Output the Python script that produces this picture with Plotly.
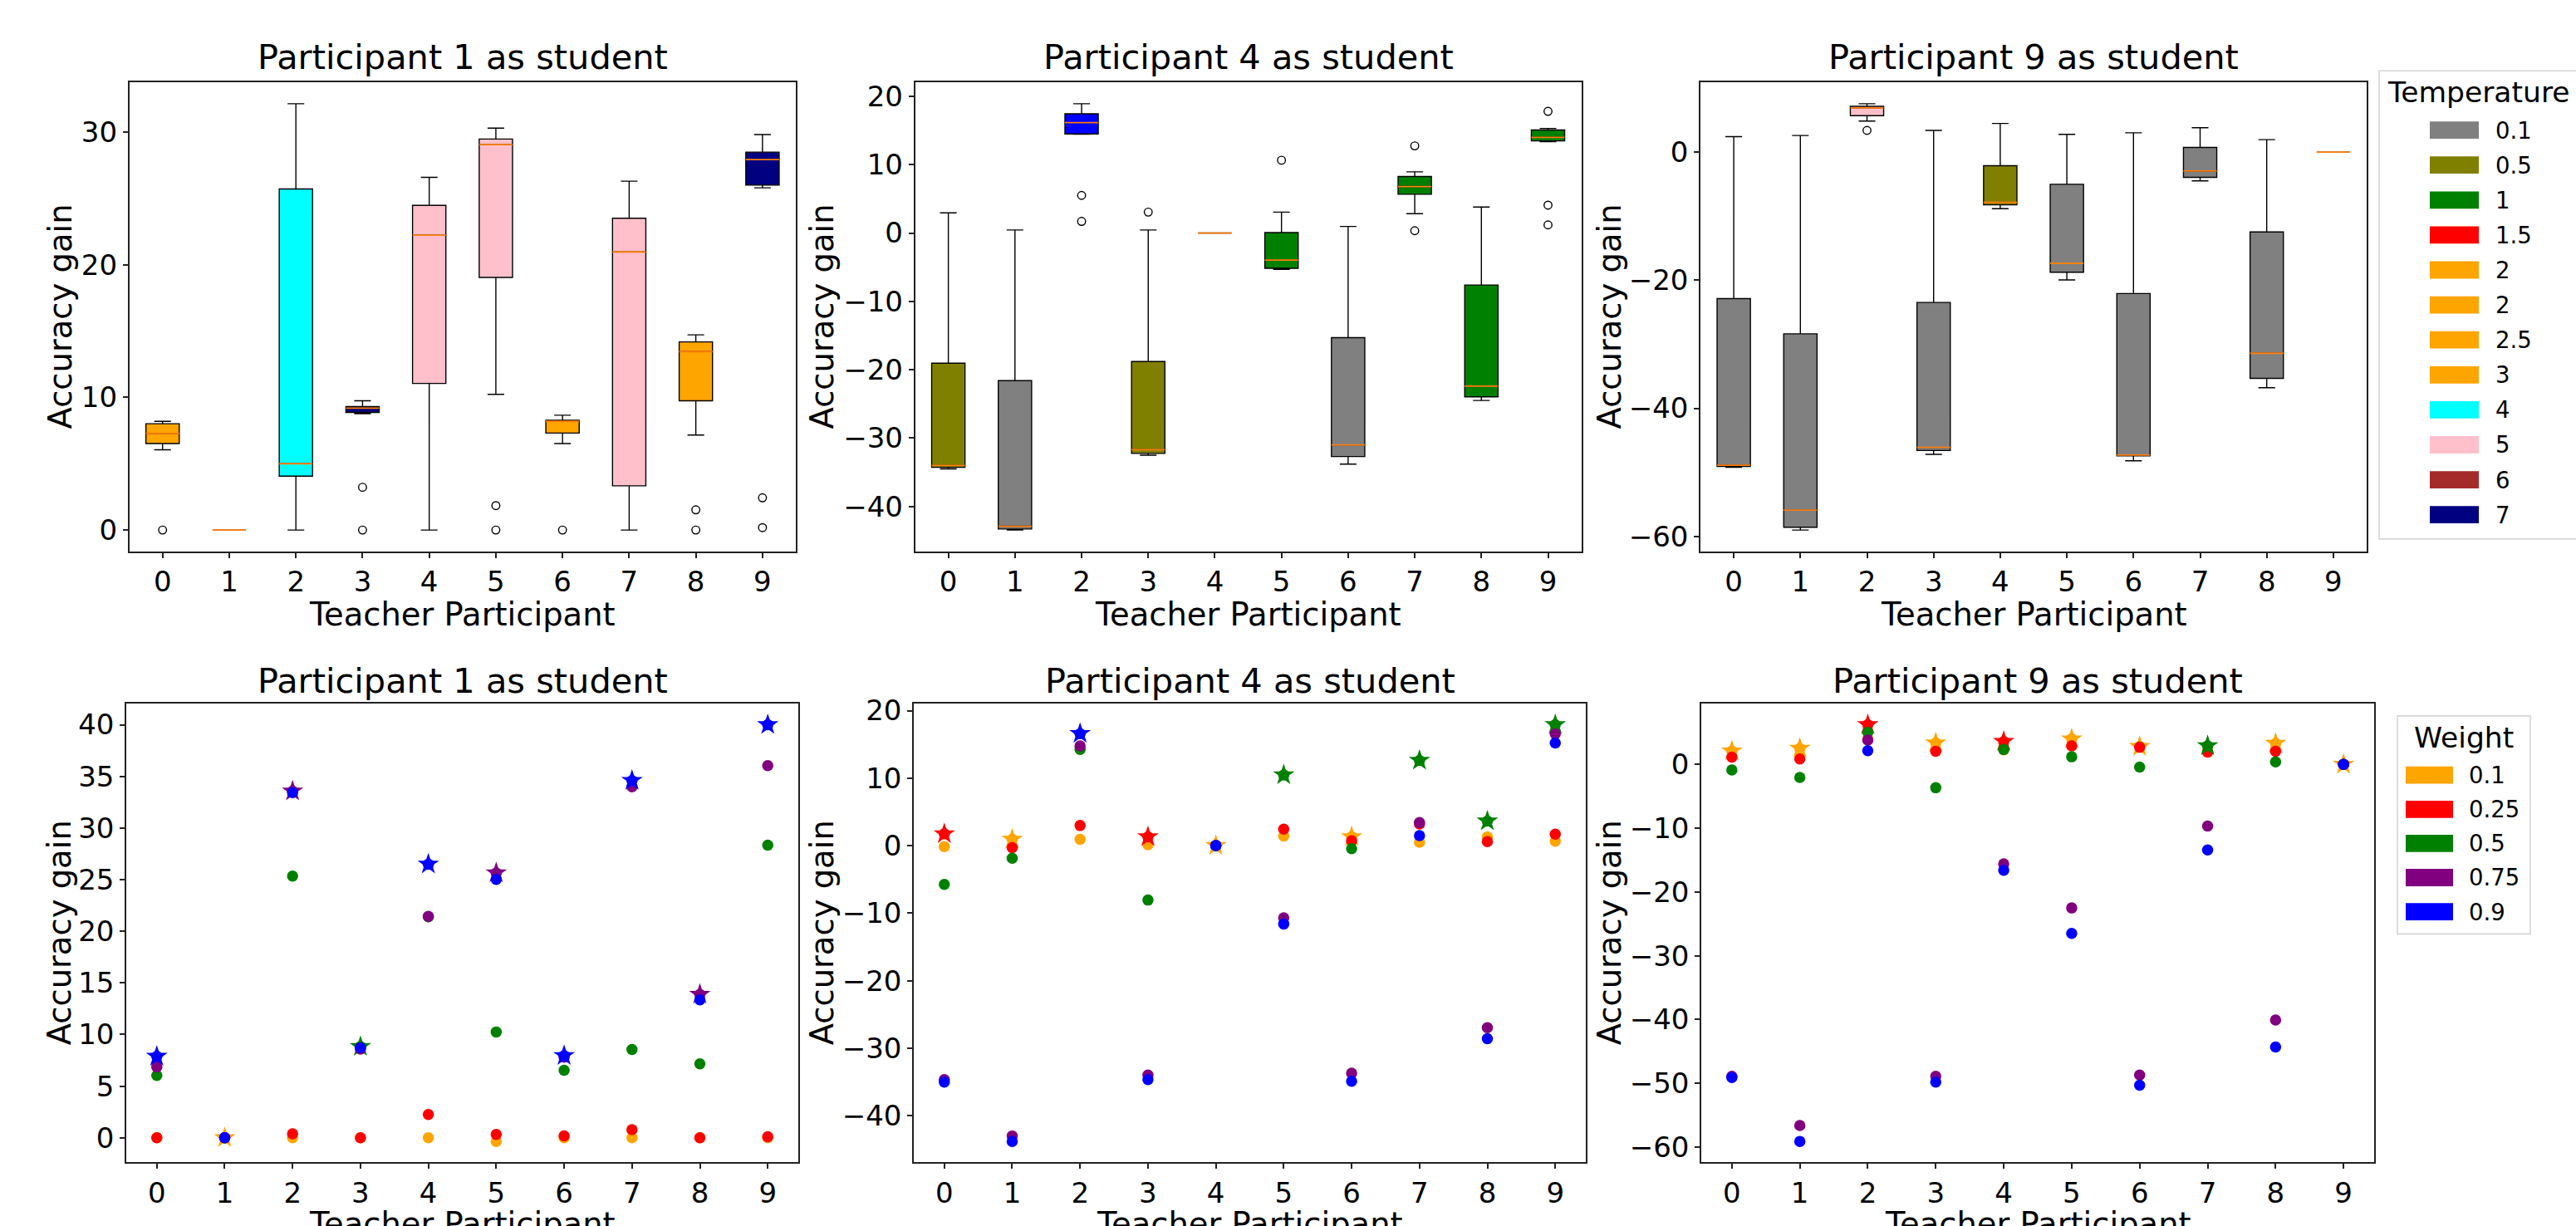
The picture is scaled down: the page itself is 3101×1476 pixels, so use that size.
import plotly.graph_objects as go

W, H = 3101, 1476
FONT = "DejaVu Sans"

# ---------------- data ----------------
TEACHERS = [0, 1, 2, 3, 4, 5, 6, 7, 8, 9]
TITLES = ["Participant 1 as student", "Participant 4 as student", "Participant 9 as student"]
X_LABEL = "Teacher Participant"
Y_LABEL = "Accuracy gain"

# Top row: box statistics per teacher
P1_Q1 = [6.52, 0.0, 4.06, 8.86, 11.05, 19.04, 7.31, 3.33, 9.74, 25.99]
P1_MEDIAN = [7.28, 0.0, 5.0, 9.18, 22.22, 29.04, 8.19, 20.96, 13.45, 27.92]
P1_Q3 = [8.01, 0.0, 25.7, 9.30, 24.47, 29.47, 8.27, 23.5, 14.18, 28.48]
P1_LOW = [6.05, 0.0, 0.0, 8.77, 0.0, 10.23, 6.52, 0.0, 7.16, 25.79]
P1_HIGH = [8.19, 0.0, 32.13, 9.74, 26.58, 30.29, 8.65, 26.29, 14.71, 29.8]
P1_BOX_COLOR = ["orange", "orange", "cyan", "navy", "pink", "pink", "orange", "pink", "orange", "navy"]
P1_OUT_X = [0, 3, 3, 5, 5, 6, 8, 8, 9, 9]
P1_OUT_Y = [0.0, 3.22, 0.0, 1.84, 0.0, 0.0, 1.52, 0.0, 2.43, 0.18]

P4_Q1 = [-34.28, -43.3, 14.5, -32.24, 0.0, -5.16, -32.7, 5.67, -23.97, 13.48]
P4_MEDIAN = [-34.0, -42.9, 16.15, -31.7, 0.0, -3.97, -31.0, 6.8, -22.4, 14.0]
P4_Q3 = [-19.04, -21.6, 17.45, -18.8, 0.0, 0.06, -15.3, 8.27, -7.6, 15.07]
P4_LOW = [-34.5, -43.45, 14.45, -32.5, 0.0, -5.33, -33.8, 2.83, -24.5, 13.37]
P4_HIGH = [2.95, 0.45, 18.92, 0.45, 0.0, 3.06, 0.96, 8.95, 3.8, 15.3]
P4_BOX_COLOR = ["olive", "gray", "blue", "olive", "orange", "green", "gray", "green", "green", "green"]
P4_OUT_X = [2, 2, 3, 5, 7, 7, 9, 9, 9]
P4_OUT_Y = [5.5, 1.7, 3.06, 10.65, 12.75, 0.34, 17.8, 4.08, 1.19]

P9_Q1 = [-49.06, -58.56, 5.69, -46.58, -8.23, -18.75, -47.43, -3.93, -35.33, 0.0]
P9_MEDIAN = [-48.9, -55.9, 6.9, -46.1, -7.86, -17.36, -47.3, -2.96, -31.4, 0.0]
P9_Q3 = [-22.87, -28.37, 7.14, -23.47, -2.12, -5.02, -22.08, 0.73, -12.46, 0.0]
P9_LOW = [-49.2, -59.0, 4.84, -47.19, -8.83, -19.96, -48.2, -4.48, -36.78, 0.0]
P9_HIGH = [2.42, 2.6, 7.56, 3.39, 4.48, 2.78, 3.02, 3.81, 1.94, 0.0]
P9_BOX_COLOR = ["gray", "gray", "pink", "gray", "olive", "gray", "gray", "gray", "gray", "orange"]
P9_OUT_X = [2]
P9_OUT_Y = [3.39]

TEMP_LABELS = ["0.1", "0.5", "1", "1.5", "2", "2", "2.5", "3", "4", "5", "6", "7"]
TEMP_COLORS = ["gray", "olive", "green", "red", "orange", "orange", "orange", "orange",
               "cyan", "pink", "brown", "navy"]

# Bottom row: accuracy gain per distillation weight
WEIGHT_LABELS = ["0.1", "0.25", "0.5", "0.75", "0.9"]
WEIGHT_COLORS = ["orange", "red", "green", "purple", "blue"]

P1_W010 = [0.0, 0.0, 0.0, 0.0, 0.0, -0.35, 0.0, 0.0, 0.0, 0.0]
P1_W025 = [0.0, 0.0, 0.39, 0.0, 2.26, 0.32, 0.18, 0.78, 0.0, 0.11]
P1_W050 = [6.04, 0.0, 25.34, 8.83, 21.4, 10.25, 6.54, 8.55, 7.17, 28.34]
P1_W075 = [6.86, 0.0, 33.57, 8.6, 21.45, 25.65, 7.8, 34.0, 13.89, 36.04]
P1_W090 = [7.88, 0.0, 33.43, 8.73, 26.5, 25.02, 7.95, 34.6, 13.36, 40.0]

P4_W010 = [-0.14, 0.94, 0.94, 0.13, 0.0, 1.42, 1.31, 0.51, 1.31, 0.67]
P4_W025 = [1.75, -0.30, 2.98, 1.31, 0.0, 2.44, 0.72, 3.2, 0.61, 1.69]
P4_W050 = [-5.74, -1.86, 14.24, -8.06, 0.0, 10.47, -0.46, 12.62, 3.63, 17.9]
P4_W075 = [-34.66, -43.0, 14.78, -33.96, 0.0, -10.7, -33.7, 3.41, -26.96, 16.55]
P4_W090 = [-35.03, -43.8, 16.6, -34.66, 0.0, -11.6, -34.9, 1.48, -28.6, 15.2]

P9_W010 = [2.11, 2.51, 4.0, 3.37, 2.3, 4.0, 2.8, 2.0, 3.31, 0.0]
P9_W025 = [1.14, 0.86, 6.22, 2.05, 3.6, 2.91, 2.7, 1.94, 2.05, 0.0]
P9_W050 = [-0.86, -2.05, 5.02, -3.65, 2.34, 1.2, -0.4, 2.91, 0.4, 0.0]
P9_W075 = [-48.9, -56.6, 3.82, -48.9, -15.6, -22.5, -48.7, -9.65, -40.07, 0.0]
P9_W090 = [-49.1, -59.1, 2.17, -49.8, -16.6, -26.5, -50.3, -13.4, -44.3, 0.0]

BOX_PANELS = [
    dict(q1=P1_Q1, med=P1_MEDIAN, q3=P1_Q3, lo=P1_LOW, hi=P1_HIGH, col=P1_BOX_COLOR, ox=P1_OUT_X, oy=P1_OUT_Y),
    dict(q1=P4_Q1, med=P4_MEDIAN, q3=P4_Q3, lo=P4_LOW, hi=P4_HIGH, col=P4_BOX_COLOR, ox=P4_OUT_X, oy=P4_OUT_Y),
    dict(q1=P9_Q1, med=P9_MEDIAN, q3=P9_Q3, lo=P9_LOW, hi=P9_HIGH, col=P9_BOX_COLOR, ox=P9_OUT_X, oy=P9_OUT_Y),
]
SCATTER_PANELS = [
    [P1_W010, P1_W025, P1_W050, P1_W075, P1_W090],
    [P4_W010, P4_W025, P4_W050, P4_W075, P4_W090],
    [P9_W010, P9_W025, P9_W050, P9_W075, P9_W090],
]

# ---------------- layout constants (pixels) ----------------
BOX_X_PX = [(155.6, 958.0), (1101.5, 1903.6), (2047.0, 2849.0)]
SCAT_X_PX = [(152.0, 961.0), (1100.0, 1909.0), (2048.0, 2858.0)]
TOP_Y_PX = (88.0, 658.0)
BOT_Y_PX = (843.5, 1400.5)
YTITLE_X_PX = [[72, 989, 1937], [71, 989, 1937]]
BOX_DTICK = [10, 10, 20]
SCAT_DTICK = [5, 10, 10]
BOX_W = 0.5
TITLE_SIZE = 41.5
LABEL_SIZE = 38.5
TICK_SIZE = 34


def px_x(p):
    return p / W


def px_y(p):
    return 1 - p / H


def padded(vals, frac=0.05):
    lo, hi = min(vals), max(vals)
    span = hi - lo
    return [lo - frac * span, hi + frac * span]


fig = go.Figure()
layout = dict(
    width=W, height=H,
    margin=dict(l=0, r=0, t=0, b=0),
    paper_bgcolor="white", plot_bgcolor="white",
    showlegend=False, boxmode="overlay",
    font=dict(family=FONT, color="black"),
)

axis_common = dict(
    showline=True, mirror=True, linecolor="#222222", linewidth=1.5,
    ticks="outside", ticklen=6, tickwidth=1.5, tickcolor="#222222",
    showgrid=False, zeroline=False,
    tickfont=dict(family=FONT, size=TICK_SIZE, color="black"),
)

annotations = []
shapes = []


def text_ann(text, x, y, size, angle=0, xanchor="center"):
    return dict(text=text, x=px_x(x), y=px_y(y), xref="paper", yref="paper",
                showarrow=False, xanchor=xanchor, yanchor="middle", textangle=angle,
                font=dict(size=size, family=FONT, color="black"))


# ---------------- top row: box plots ----------------
for p, panel in enumerate(BOX_PANELS):
    idx = p + 1
    xa = "x" if idx == 1 else f"x{idx}"
    ya = "y" if idx == 1 else f"y{idx}"
    for t in TEACHERS:
        fig.add_trace(go.Box(
            x=[t], q1=[panel["q1"][t]], median=[panel["med"][t]], q3=[panel["q3"][t]],
            lowerfence=[panel["lo"][t]], upperfence=[panel["hi"][t]],
            orientation="v", width=BOX_W, whiskerwidth=0.5,
            fillcolor=panel["col"][t], line=dict(color="black", width=1.4),
            boxpoints=False, showlegend=False, xaxis=xa, yaxis=ya,
        ))
    mx, my = [], []
    for t in TEACHERS:
        mx += [t - BOX_W / 2, t + BOX_W / 2, None]
        my += [panel["med"][t], panel["med"][t], None]
    fig.add_trace(go.Scatter(x=mx, y=my, mode="lines", line=dict(color="#ff7f0e", width=1.8),
                             showlegend=False, xaxis=xa, yaxis=ya))
    fig.add_trace(go.Scatter(x=panel["ox"], y=panel["oy"], mode="markers",
                             marker=dict(symbol="circle-open", size=9.5, color="black",
                                         line=dict(width=1.4, color="black")),
                             showlegend=False, xaxis=xa, yaxis=ya))
    yr = padded(panel["lo"] + panel["hi"] + panel["oy"])
    layout["xaxis" if idx == 1 else f"xaxis{idx}"] = dict(
        axis_common, domain=[px_x(BOX_X_PX[p][0]), px_x(BOX_X_PX[p][1])], anchor=ya,
        range=[-0.5, 9.5], tickmode="array", tickvals=TEACHERS, ticktext=[str(t) for t in TEACHERS])
    layout["yaxis" if idx == 1 else f"yaxis{idx}"] = dict(
        axis_common, domain=[px_y(TOP_Y_PX[1]), px_y(TOP_Y_PX[0])], anchor=xa,
        range=yr, tick0=0, dtick=BOX_DTICK[p])
    cx = (BOX_X_PX[p][0] + BOX_X_PX[p][1]) / 2
    annotations.append(text_ann(TITLES[p], cx, 57, TITLE_SIZE))
    annotations.append(text_ann(X_LABEL, cx, 734, LABEL_SIZE))
    annotations.append(text_ann(Y_LABEL, YTITLE_X_PX[0][p], sum(TOP_Y_PX) / 2, LABEL_SIZE, angle=-90))

# ---------------- bottom row: scatter plots ----------------
for p, series in enumerate(SCATTER_PANELS):
    idx = p + 4
    xa, ya = f"x{idx}", f"y{idx}"
    best = []
    for t in TEACHERS:
        vals = [s[t] for s in series]
        best.append(vals.index(max(vals)))
    for k, s in enumerate(series):
        fig.add_trace(go.Scatter(x=TEACHERS, y=s, mode="markers",
                                 marker=dict(symbol="circle", size=13.5, color=WEIGHT_COLORS[k],
                                             line=dict(width=0)),
                                 showlegend=False, xaxis=xa, yaxis=ya))
        sx = [t for t in TEACHERS if best[t] == k]
        sy = [s[t] for t in sx]
        if sx:
            fig.add_trace(go.Scatter(x=sx, y=sy, mode="markers",
                                     marker=dict(symbol="star", size=19.5, color=WEIGHT_COLORS[k],
                                                 line=dict(width=0)),
                                     showlegend=False, xaxis=xa, yaxis=ya))
    allv = [v for s in series for v in s]
    layout[f"xaxis{idx}"] = dict(
        axis_common, domain=[px_x(SCAT_X_PX[p][0]), px_x(SCAT_X_PX[p][1])], anchor=ya,
        range=[-0.45, 9.45], tickmode="array", tickvals=TEACHERS, ticktext=[str(t) for t in TEACHERS])
    layout[f"yaxis{idx}"] = dict(
        axis_common, domain=[px_y(BOT_Y_PX[1]), px_y(BOT_Y_PX[0])], anchor=xa,
        range=padded(allv), tick0=0, dtick=SCAT_DTICK[p])
    cx = (SCAT_X_PX[p][0] + SCAT_X_PX[p][1]) / 2
    annotations.append(text_ann(TITLES[p], cx, 815, TITLE_SIZE))
    annotations.append(text_ann(X_LABEL, cx, 1475, LABEL_SIZE))
    annotations.append(text_ann(Y_LABEL, YTITLE_X_PX[1][p], sum(BOT_Y_PX) / 2, LABEL_SIZE, angle=-90))


# ---------------- legends (drawn as patches + labels) ----------------
def draw_legend(title, labels, colors, box, title_pos, title_anchor, first_y, step, patch_x, label_x,
                title_size, label_size):
    shapes.append(dict(type="rect", xref="paper", yref="paper",
                       x0=px_x(box[0]), x1=px_x(box[1]), y0=px_y(box[3]), y1=px_y(box[2]),
                       line=dict(color="#d6d6d6", width=1.6), fillcolor="rgba(255,255,255,0.8)",
                       layer="above"))
    annotations.append(text_ann(title, title_pos[0], title_pos[1], title_size, xanchor=title_anchor))
    for i, (lab, col) in enumerate(zip(labels, colors)):
        cy = first_y + i * step
        shapes.append(dict(type="rect", xref="paper", yref="paper",
                           x0=px_x(patch_x[0]), x1=px_x(patch_x[1]),
                           y0=px_y(cy + 10.5), y1=px_y(cy - 10.5),
                           line=dict(width=0), fillcolor=col, layer="above"))
        annotations.append(text_ann(lab, label_x, cy, label_size, xanchor="left"))


draw_legend("Temperature", TEMP_LABELS, TEMP_COLORS, box=(2864, 3112, 74, 643),
            title_pos=(2872, 100), title_anchor="left", first_y=146, step=42.5,
            patch_x=(2925, 2984), label_x=3002, title_size=34.5, label_size=27.5)
draw_legend("Weight", WEIGHT_LABELS, WEIGHT_COLORS, box=(2886, 3046, 858, 1123),
            title_pos=(2966, 884), title_anchor="center", first_y=930, step=41.5,
            patch_x=(2896, 2953), label_x=2970, title_size=34.5, label_size=27.5)

layout["annotations"] = annotations
layout["shapes"] = shapes
fig.update_layout(**layout)
fig.write_html("out.html")
